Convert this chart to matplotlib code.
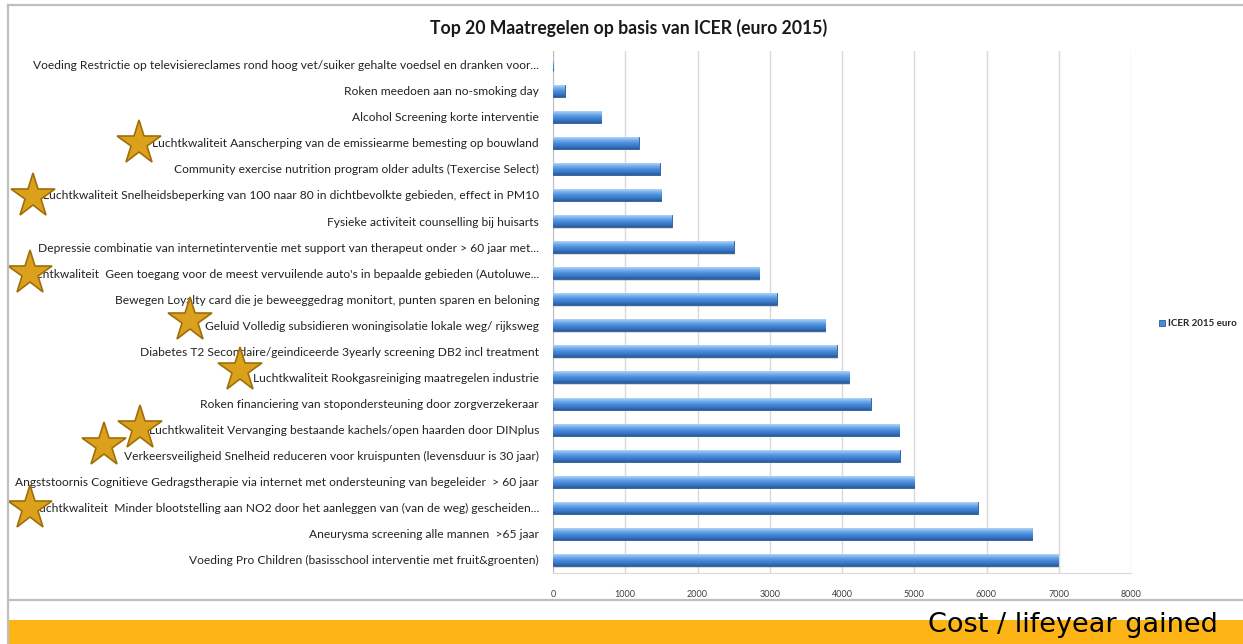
import matplotlib
matplotlib.use('Agg')
import matplotlib.pyplot as plt
import numpy as np
from matplotlib.colors import LinearSegmentedColormap
from matplotlib.lines import Line2D
from matplotlib.patches import Rectangle
from matplotlib.transforms import blended_transform_factory

plt.rcParams['font.family'] = ['Lato', 'DejaVu Sans']

# data, top to bottom as in the chart
labels = [
    'Voeding Restrictie op televisiereclames rond hoog vet/suiker gehalte voedsel en dranken voor...',
    'Roken meedoen aan no-smoking day',
    'Alcohol Screening korte interventie',
    'Luchtkwaliteit Aanscherping van de emissiearme bemesting op bouwland',
    'Community exercise nutrition program older adults (Texercise Select)',
    'Luchtkwaliteit Snelheidsbeperking van 100 naar 80 in dichtbevolkte gebieden, effect in PM10',
    'Fysieke activiteit counselling bij huisarts',
    'Depressie combinatie van internetinterventie met support van therapeut onder > 60 jaar met...',
    'Luchtkwaliteit  Geen toegang voor de meest vervuilende auto\'s in bepaalde gebieden (Autoluwe...',
    'Bewegen Loyalty card die je beweeggedrag monitort, punten sparen en beloning',
    'Geluid Volledig subsidieren woningisolatie lokale weg/ rijksweg',
    'Diabetes T2 Secondaire/geindiceerde 3yearly screening DB2 incl treatment',
    'Luchtkwaliteit Rookgasreiniging maatregelen industrie',
    'Roken financiering van stopondersteuning door zorgverzekeraar',
    'Luchtkwaliteit Vervanging bestaande kachels/open haarden door DINplus',
    'Verkeersveiligheid Snelheid reduceren voor kruispunten (levensduur is 30 jaar)',
    'Angststoornis Cognitieve Gedragstherapie via internet met ondersteuning van begeleider  > 60 jaar',
    'Luchtkwaliteit  Minder blootstelling aan NO2 door het aanleggen van (van de weg) gescheiden...',
    'Aneurysma screening alle mannen  >65 jaar',
    'Voeding Pro Children (basisschool interventie met fruit&groenten)',
]
icer = [5, 165, 665, 1190, 1475, 1500, 1645, 2500, 2855, 3100,
        3770, 3930, 4100, 4400, 4790, 4800, 5000, 5880, 6630, 6990]
series_name = 'ICER 2015 euro'
title = 'Top 20 Maatregelen op basis van ICER (euro 2015)'
footer = 'Cost / lifeyear gained'

# rows marked with a star (environment measures)
star_rows = [3, 5, 8, 10, 12, 14, 15, 17]
# star placement: x in figure pixels, y shift in rows
star_x = [139, 33, 30, 190, 240, 140, 104, 30]
star_dy = [0.0, 0.05, 0.0, -0.2, -0.27, -0.08, -0.42, 0.0]

W, H = 1243, 644
fig = plt.figure(figsize=(W / 100, H / 100), dpi=100)
ax = fig.add_axes([553 / W, 1 - 573 / H, (1131 - 553) / W, (573 - 51) / H])

y = np.arange(len(labels))
bh = 0.46

# soft shadow under each bar
ax.barh(y + 0.06, icer, height=bh, left=15, color='#9a9a9a', alpha=0.35,
        linewidth=0, zorder=2)
bars = ax.barh(y, icer, height=bh, color='#4a8ad8', edgecolor='#2c5b98',
               linewidth=0.6, zorder=3, label=series_name)

# glossy gradient like the excel bars
cmap = LinearSegmentedColormap.from_list(
    'gloss', ['#b3d3f5', '#74aeec', '#4b8edc', '#3b79c7', '#2a5a9c'])
grad = np.linspace(0, 1, 64).reshape(-1, 1)
for b in bars:
    x0, y0 = b.get_x(), b.get_y()
    im = ax.imshow(grad, origin='upper', aspect='auto', cmap=cmap, zorder=3.5,
                   extent=[x0, x0 + b.get_width(), y0 + b.get_height(), y0])
    im.set_clip_path(b)

ax.set_xlim(0, 8000)
ax.set_ylim(len(labels) - 0.5, -0.52)
ax.set_xticks(np.arange(0, 8001, 1000))
ax.set_yticks(y)
ax.set_yticklabels(labels, fontsize=8.65, color='#222222')
ax.tick_params(axis='y', length=0, pad=10)
ax.tick_params(axis='x', length=0, pad=12, labelsize=6.5, labelcolor='#404040')
ax.grid(axis='x', color='#d9d9d9', linewidth=1, zorder=0)
ax.set_axisbelow(True)
for s in ['top', 'right']:
    ax.spines[s].set_visible(False)
ax.spines['left'].set_color('#bfbfbf')
ax.spines['bottom'].set_color('#d9d9d9')
ax.set_aspect('auto')

# stars
tr = blended_transform_factory(fig.transFigure, ax.transData)
for r, sx, dy in zip(star_rows, star_x, star_dy):
    ax.plot(sx / W, r + dy, marker='*', markersize=33, color='#dba11c',
            markeredgecolor='#a06e08', markeredgewidth=1.2, transform=tr,
            clip_on=False, zorder=10)

# legend
leg = ax.legend(loc='center left', bbox_to_anchor=(1150 / W, 1 - 324 / H),
                bbox_transform=fig.transFigure, frameon=False, fontsize=7,
                handlelength=0.6, handleheight=0.6, handletextpad=0.3)
for t in leg.get_texts():
    t.set_color('#262626')
    t.set_fontweight('bold')

fig.text(629 / W, 1 - 28 / H, title, ha='center', va='center',
         fontsize=12.7, fontweight='bold', color='#1a1a1a')

# frame and footer band
fig.add_artist(Line2D([8 / W, 1], [1 - 5 / H, 1 - 5 / H], color='#bfbfbf', lw=1.6))
fig.add_artist(Line2D([8 / W, 8 / W], [1 - 5 / H, 0], color='#bfbfbf', lw=1.6))
fig.add_artist(Line2D([8 / W, 1], [1 - 600 / H, 1 - 600 / H], color='#bfbfbf', lw=1.6))
fig.add_artist(Rectangle((8 / W, 0), 1, 24 / H, transform=fig.transFigure,
                         facecolor='#fdb515', edgecolor='none', zorder=0))
fig.text(1218 / W, 1 - 625 / H, footer, ha='right', va='center',
         fontsize=19.5, color='#000000', family='DejaVu Sans')

fig.savefig('out.png', dpi=100)
